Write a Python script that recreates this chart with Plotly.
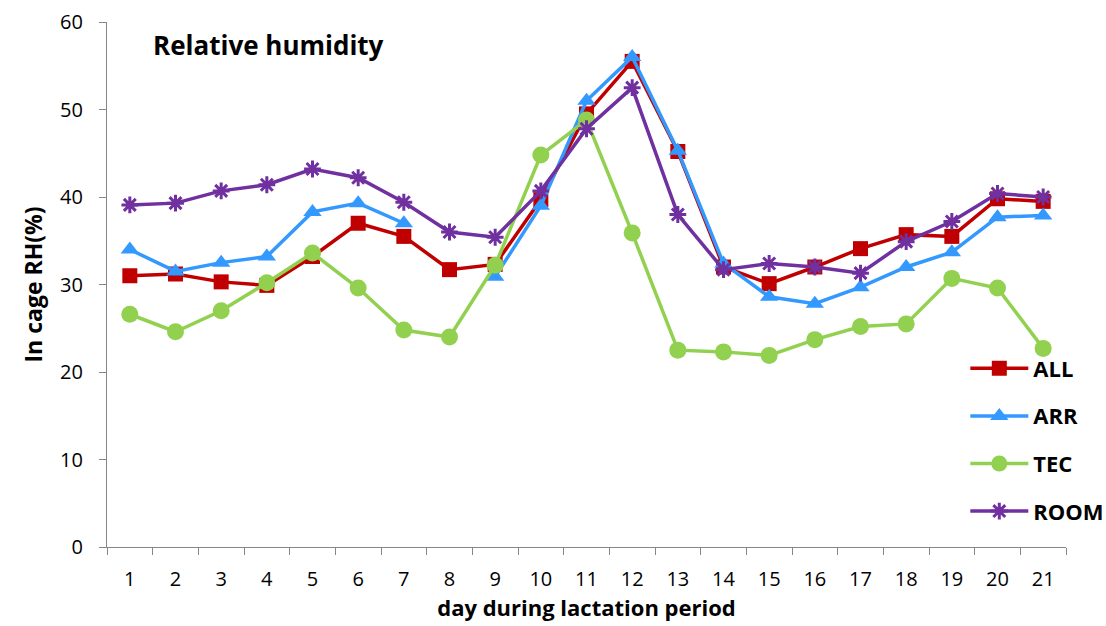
import plotly.graph_objects as go

days = [str(d) for d in range(1, 22)]
ALL = [31.0, 31.2, 30.3, 29.9, 33.2, 37.0, 35.5, 31.7, 32.3, 39.7, 49.5, 55.5, 45.2, 32.0, 30.1, 32.0, 34.1, 35.7, 35.5, 39.8, 39.5]
ARR = [34.0, 31.5, 32.5, 33.2, 38.3, 39.3, 37.0, None, 30.9, 39.0, 51.0, 56.0, 45.3, 32.4, 28.6, 27.8, 29.7, 32.0, 33.7, 37.7, 37.9]
TEC = [26.6, 24.6, 27.0, 30.2, 33.6, 29.6, 24.8, 24.0, 32.2, 44.8, 48.8, 35.9, 22.5, 22.3, 21.9, 23.7, 25.2, 25.5, 30.7, 29.6, 22.7]
ROOM = [39.1, 39.3, 40.7, 41.4, 43.2, 42.2, 39.4, 36.0, 35.4, 40.7, 47.8, 52.5, 38.0, 31.7, 32.4, 32.0, 31.3, 34.9, 37.2, 40.4, 40.0]

series = [
    ("ALL", ALL, "#C00000", "square", 15),
    ("ARR", ARR, "#3399FF", "triangle-up", 16),
    ("TEC", TEC, "#92D050", "circle", 17),
    ("ROOM", ROOM, "#7030A0", "asterisk-open", 14),
]

FONT = "'Open Sans', sans-serif"
fig = go.Figure()
for name, vals, col, sym, sz in series:
    fig.add_trace(go.Scatter(
        x=days, y=vals, name=name, mode="lines+markers",
        connectgaps=False, legendgroup=name,
        line=dict(color=col, width=3.5),
        marker=dict(symbol=sym, size=sz, color=col,
                    line=dict(color=col, width=3 if sym == "asterisk-open" else 0)),
    ))

fig.update_layout(
    width=1106, height=626,
    margin=dict(l=107, r=40, t=22, b=79, autoexpand=False),
    paper_bgcolor="white", plot_bgcolor="white",
    font=dict(family=FONT, size=20, color="black"),
    showlegend=True,
    legend=dict(x=0.895, y=0.38, xanchor="left", yanchor="top",
                font=dict(family=FONT, size=22, color="black", weight="bold"),
                tracegroupgap=16, itemwidth=58, bgcolor="rgba(0,0,0,0)"),
    annotations=[dict(text="<b>Relative humidity</b>", xref="paper", yref="paper",
                      x=0.046, y=0.957, xanchor="left", yanchor="middle",
                      showarrow=False, font=dict(family=FONT, size=26, color="black"))],
)
fig.update_xaxes(
    type="category", range=[-0.5, 20.5], showgrid=False,
    showline=True, linecolor="#868686", linewidth=1.3,
    ticks="outside", tickson="boundaries", ticklen=7, tickcolor="#868686",
    tickfont=dict(family=FONT, size=20), ticklabelstandoff=14,
    title=dict(text="<b>day during lactation period</b>", font=dict(family=FONT, size=22), standoff=0),
)
fig.update_yaxes(
    range=[0, 60], dtick=10, showgrid=False, zeroline=False,
    showline=True, linecolor="#868686", linewidth=1.3,
    ticks="outside", ticklen=7, tickcolor="#868686",
    tickfont=dict(family=FONT, size=20), ticklabelstandoff=12,
    title=dict(text="<b>In cage RH(%)</b>", font=dict(family=FONT, size=23), standoff=10),
)
fig.write_html("out.html")
